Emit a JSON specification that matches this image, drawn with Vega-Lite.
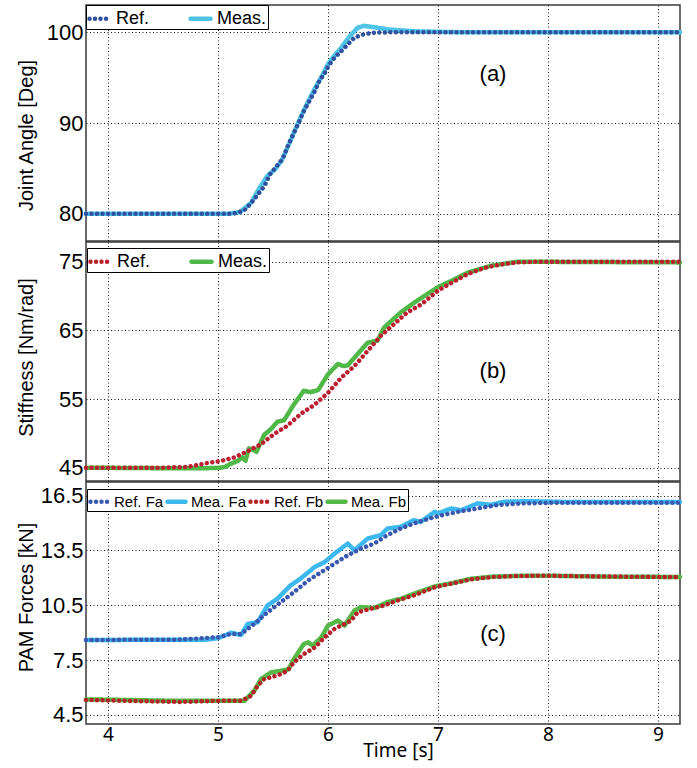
{
  "$schema": "https://vega.github.io/schema/vega-lite/v6.json",
  "padding": {"left": 15, "top": 3, "right": 5, "bottom": 2},
  "background": "white",
  "datasets": {
    "a": [
      {"s":"Ref.","t":3.8,"v":80},{"s":"Ref.","t":5.0,"v":80},{"s":"Ref.","t":5.1,"v":80.0},{"s":"Ref.","t":5.15,"v":80.05},{"s":"Ref.","t":5.2,"v":80.2},{"s":"Ref.","t":5.24,"v":80.4},{"s":"Ref.","t":5.3,"v":81.15},{"s":"Ref.","t":5.36,"v":82.1},{"s":"Ref.","t":5.42,"v":83.0},{"s":"Ref.","t":5.47,"v":84.3},{"s":"Ref.","t":5.53,"v":85.2},{"s":"Ref.","t":5.59,"v":86.1},{"s":"Ref.","t":5.64,"v":87.6},{"s":"Ref.","t":5.69,"v":88.9},{"s":"Ref.","t":5.74,"v":90.2},{"s":"Ref.","t":5.78,"v":91.3},{"s":"Ref.","t":5.83,"v":92.4},{"s":"Ref.","t":5.88,"v":93.5},{"s":"Ref.","t":5.92,"v":94.6},{"s":"Ref.","t":5.97,"v":95.5},{"s":"Ref.","t":6.01,"v":96.4},{"s":"Ref.","t":6.06,"v":97.2},{"s":"Ref.","t":6.12,"v":97.9},{"s":"Ref.","t":6.18,"v":98.65},{"s":"Ref.","t":6.24,"v":99.4},{"s":"Ref.","t":6.33,"v":99.8},{"s":"Ref.","t":6.42,"v":99.95},{"s":"Ref.","t":6.6,"v":100},{"s":"Ref.","t":9.2,"v":100},
      {"s":"Meas.","t":3.8,"v":80},{"s":"Meas.","t":5.1,"v":80},{"s":"Meas.","t":5.2,"v":80.2},{"s":"Meas.","t":5.3,"v":81.2},{"s":"Meas.","t":5.38,"v":82.9},{"s":"Meas.","t":5.45,"v":84.2},{"s":"Meas.","t":5.52,"v":84.9},{"s":"Meas.","t":5.58,"v":85.9},{"s":"Meas.","t":5.65,"v":87.8},{"s":"Meas.","t":5.72,"v":89.8},{"s":"Meas.","t":5.8,"v":91.9},{"s":"Meas.","t":5.88,"v":93.8},{"s":"Meas.","t":5.95,"v":95.3},{"s":"Meas.","t":6.0,"v":96.5},{"s":"Meas.","t":6.05,"v":97.3},{"s":"Meas.","t":6.12,"v":98.3},{"s":"Meas.","t":6.2,"v":99.6},{"s":"Meas.","t":6.27,"v":100.5},{"s":"Meas.","t":6.33,"v":100.7},{"s":"Meas.","t":6.42,"v":100.55},{"s":"Meas.","t":6.55,"v":100.3},{"s":"Meas.","t":6.8,"v":100.1},{"s":"Meas.","t":7.2,"v":100.0},{"s":"Meas.","t":9.2,"v":100.0}
    ],
    "b": [
      {"s":"Ref.","t":3.8,"v":45.0},{"s":"Ref.","t":4.5,"v":45.0},{"s":"Ref.","t":4.72,"v":45.1},{"s":"Ref.","t":4.91,"v":45.7},{"s":"Ref.","t":5.03,"v":46.0},{"s":"Ref.","t":5.15,"v":46.5},{"s":"Ref.","t":5.27,"v":47.4},{"s":"Ref.","t":5.39,"v":48.4},{"s":"Ref.","t":5.51,"v":49.9},{"s":"Ref.","t":5.63,"v":51.1},{"s":"Ref.","t":5.75,"v":52.8},{"s":"Ref.","t":5.88,"v":54.2},{"s":"Ref.","t":6.0,"v":55.9},{"s":"Ref.","t":6.12,"v":58.1},{"s":"Ref.","t":6.24,"v":59.8},{"s":"Ref.","t":6.36,"v":62.0},{"s":"Ref.","t":6.48,"v":64.2},{"s":"Ref.","t":6.6,"v":65.9},{"s":"Ref.","t":6.72,"v":67.6},{"s":"Ref.","t":6.85,"v":68.8},{"s":"Ref.","t":7.0,"v":70.8},{"s":"Ref.","t":7.12,"v":71.9},{"s":"Ref.","t":7.27,"v":73.2},{"s":"Ref.","t":7.42,"v":74.1},{"s":"Ref.","t":7.57,"v":74.6},{"s":"Ref.","t":7.72,"v":74.9},{"s":"Ref.","t":7.9,"v":75.0},{"s":"Ref.","t":9.2,"v":75.0},
      {"s":"Meas.","t":3.8,"v":45.0},{"s":"Meas.","t":4.7,"v":44.9},{"s":"Meas.","t":5.0,"v":44.95},{"s":"Meas.","t":5.06,"v":45.1},{"s":"Meas.","t":5.12,"v":45.6},{"s":"Meas.","t":5.18,"v":46.0},{"s":"Meas.","t":5.22,"v":46.5},{"s":"Meas.","t":5.25,"v":46.0},{"s":"Meas.","t":5.28,"v":47.8},{"s":"Meas.","t":5.32,"v":47.6},{"s":"Meas.","t":5.35,"v":47.3},{"s":"Meas.","t":5.42,"v":49.8},{"s":"Meas.","t":5.48,"v":50.6},{"s":"Meas.","t":5.54,"v":51.7},{"s":"Meas.","t":5.6,"v":51.9},{"s":"Meas.","t":5.69,"v":54.2},{"s":"Meas.","t":5.78,"v":56.2},{"s":"Meas.","t":5.84,"v":56.0},{"s":"Meas.","t":5.91,"v":56.3},{"s":"Meas.","t":6.0,"v":58.6},{"s":"Meas.","t":6.09,"v":60.1},{"s":"Meas.","t":6.14,"v":59.8},{"s":"Meas.","t":6.18,"v":59.9},{"s":"Meas.","t":6.24,"v":61.0},{"s":"Meas.","t":6.36,"v":63.2},{"s":"Meas.","t":6.45,"v":63.5},{"s":"Meas.","t":6.51,"v":65.4},{"s":"Meas.","t":6.66,"v":67.6},{"s":"Meas.","t":6.78,"v":69.0},{"s":"Meas.","t":7.0,"v":71.3},{"s":"Meas.","t":7.12,"v":72.2},{"s":"Meas.","t":7.27,"v":73.4},{"s":"Meas.","t":7.48,"v":74.4},{"s":"Meas.","t":7.72,"v":75.0},{"s":"Meas.","t":9.2,"v":74.9}
    ],
    "c": [
      {"s":"Ref. Fa","t":3.8,"v":8.6},{"s":"Ref. Fa","t":4.66,"v":8.62},{"s":"Ref. Fa","t":5.0,"v":8.75},{"s":"Ref. Fa","t":5.12,"v":8.93},{"s":"Ref. Fa","t":5.21,"v":8.93},{"s":"Ref. Fa","t":5.33,"v":9.48},{"s":"Ref. Fa","t":5.45,"v":10.12},{"s":"Ref. Fa","t":5.57,"v":10.67},{"s":"Ref. Fa","t":5.69,"v":11.22},{"s":"Ref. Fa","t":5.82,"v":11.86},{"s":"Ref. Fa","t":5.94,"v":12.32},{"s":"Ref. Fa","t":6.06,"v":12.78},{"s":"Ref. Fa","t":6.18,"v":13.24},{"s":"Ref. Fa","t":6.3,"v":13.6},{"s":"Ref. Fa","t":6.42,"v":13.88},{"s":"Ref. Fa","t":6.54,"v":14.34},{"s":"Ref. Fa","t":6.66,"v":14.7},{"s":"Ref. Fa","t":6.78,"v":14.98},{"s":"Ref. Fa","t":6.97,"v":15.34},{"s":"Ref. Fa","t":7.18,"v":15.62},{"s":"Ref. Fa","t":7.36,"v":15.8},{"s":"Ref. Fa","t":7.54,"v":15.99},{"s":"Ref. Fa","t":7.78,"v":16.08},{"s":"Ref. Fa","t":8.03,"v":16.11},{"s":"Ref. Fa","t":9.2,"v":16.12},
      {"s":"Mea. Fa","t":3.8,"v":8.6},{"s":"Mea. Fa","t":4.9,"v":8.62},{"s":"Mea. Fa","t":5.0,"v":8.7},{"s":"Mea. Fa","t":5.12,"v":9.0},{"s":"Mea. Fa","t":5.21,"v":8.87},{"s":"Mea. Fa","t":5.27,"v":9.48},{"s":"Mea. Fa","t":5.36,"v":9.57},{"s":"Mea. Fa","t":5.45,"v":10.49},{"s":"Mea. Fa","t":5.54,"v":10.86},{"s":"Mea. Fa","t":5.66,"v":11.59},{"s":"Mea. Fa","t":5.75,"v":11.96},{"s":"Mea. Fa","t":5.88,"v":12.6},{"s":"Mea. Fa","t":5.97,"v":12.87},{"s":"Mea. Fa","t":6.06,"v":13.33},{"s":"Mea. Fa","t":6.18,"v":13.88},{"s":"Mea. Fa","t":6.24,"v":13.51},{"s":"Mea. Fa","t":6.36,"v":14.15},{"s":"Mea. Fa","t":6.48,"v":14.34},{"s":"Mea. Fa","t":6.54,"v":14.7},{"s":"Mea. Fa","t":6.66,"v":14.79},{"s":"Mea. Fa","t":6.78,"v":15.16},{"s":"Mea. Fa","t":6.84,"v":15.06},{"s":"Mea. Fa","t":6.97,"v":15.62},{"s":"Mea. Fa","t":7.0,"v":15.53},{"s":"Mea. Fa","t":7.12,"v":15.8},{"s":"Mea. Fa","t":7.21,"v":15.7},{"s":"Mea. Fa","t":7.36,"v":16.08},{"s":"Mea. Fa","t":7.48,"v":16.0},{"s":"Mea. Fa","t":7.6,"v":16.17},{"s":"Mea. Fa","t":7.85,"v":16.2},{"s":"Mea. Fa","t":8.2,"v":16.15},{"s":"Mea. Fa","t":9.2,"v":16.15},
      {"s":"Ref. Fb","t":3.8,"v":5.32},{"s":"Ref. Fb","t":4.3,"v":5.25},{"s":"Ref. Fb","t":4.66,"v":5.21},{"s":"Ref. Fb","t":5.03,"v":5.27},{"s":"Ref. Fb","t":5.21,"v":5.27},{"s":"Ref. Fb","t":5.3,"v":5.54},{"s":"Ref. Fb","t":5.36,"v":6.09},{"s":"Ref. Fb","t":5.42,"v":6.46},{"s":"Ref. Fb","t":5.48,"v":6.55},{"s":"Ref. Fb","t":5.57,"v":6.73},{"s":"Ref. Fb","t":5.63,"v":6.91},{"s":"Ref. Fb","t":5.69,"v":7.37},{"s":"Ref. Fb","t":5.78,"v":7.83},{"s":"Ref. Fb","t":5.88,"v":8.19},{"s":"Ref. Fb","t":5.97,"v":8.75},{"s":"Ref. Fb","t":6.06,"v":9.21},{"s":"Ref. Fb","t":6.15,"v":9.48},{"s":"Ref. Fb","t":6.21,"v":9.66},{"s":"Ref. Fb","t":6.27,"v":10.12},{"s":"Ref. Fb","t":6.39,"v":10.31},{"s":"Ref. Fb","t":6.51,"v":10.49},{"s":"Ref. Fb","t":6.63,"v":10.76},{"s":"Ref. Fb","t":6.78,"v":11.04},{"s":"Ref. Fb","t":6.97,"v":11.49},{"s":"Ref. Fb","t":7.12,"v":11.68},{"s":"Ref. Fb","t":7.3,"v":11.92},{"s":"Ref. Fb","t":7.48,"v":12.04},{"s":"Ref. Fb","t":7.72,"v":12.1},{"s":"Ref. Fb","t":7.97,"v":12.12},{"s":"Ref. Fb","t":8.3,"v":12.09},{"s":"Ref. Fb","t":9.2,"v":12.04},
      {"s":"Mea. Fb","t":3.8,"v":5.35},{"s":"Mea. Fb","t":4.5,"v":5.28},{"s":"Mea. Fb","t":5.24,"v":5.27},{"s":"Mea. Fb","t":5.33,"v":5.82},{"s":"Mea. Fb","t":5.39,"v":6.46},{"s":"Mea. Fb","t":5.48,"v":6.82},{"s":"Mea. Fb","t":5.57,"v":6.91},{"s":"Mea. Fb","t":5.64,"v":6.99},{"s":"Mea. Fb","t":5.69,"v":7.56},{"s":"Mea. Fb","t":5.78,"v":8.38},{"s":"Mea. Fb","t":5.82,"v":8.47},{"s":"Mea. Fb","t":5.86,"v":8.29},{"s":"Mea. Fb","t":5.94,"v":8.75},{"s":"Mea. Fb","t":6.0,"v":9.39},{"s":"Mea. Fb","t":6.09,"v":9.66},{"s":"Mea. Fb","t":6.15,"v":9.39},{"s":"Mea. Fb","t":6.24,"v":10.21},{"s":"Mea. Fb","t":6.3,"v":10.4},{"s":"Mea. Fb","t":6.42,"v":10.35},{"s":"Mea. Fb","t":6.54,"v":10.67},{"s":"Mea. Fb","t":6.66,"v":10.85},{"s":"Mea. Fb","t":6.78,"v":11.13},{"s":"Mea. Fb","t":6.97,"v":11.53},{"s":"Mea. Fb","t":7.12,"v":11.7},{"s":"Mea. Fb","t":7.3,"v":11.95},{"s":"Mea. Fb","t":7.5,"v":12.07},{"s":"Mea. Fb","t":7.8,"v":12.12},{"s":"Mea. Fb","t":8.0,"v":12.12},{"s":"Mea. Fb","t":8.5,"v":12.07},{"s":"Mea. Fb","t":9.2,"v":12.05}
    ],
    "lab": [
      {"p":"a","t":7.5,"v":95.4,"txt":"(a)"},
      {"p":"b","t":7.5,"v":59.1,"txt":"(b)"},
      {"p":"c","t":7.5,"v":8.95,"txt":"(c)"}
    ]
  },
  "config": {
    "view": {"stroke": "#3a3a3a", "strokeWidth": 1.5},
    "axis": {
      "grid": true, "gridDash": [1, 2.5], "gridColor": "#000", "gridWidth": 1, "gridOpacity": 0.9,
      "domain": false, "ticks": false,
      "labelFont": "Liberation Sans", "labelFontSize": 22, "labelColor": "black",
      "titleFont": "Liberation Sans", "titleFontSize": 20, "titleFontWeight": "normal", "titleColor": "black"
    },
    "legend": {
      "title": null, "orient": "none", "direction": "horizontal",
      "padding": 1, "strokeColor": "black", "fillColor": "white", "cornerRadius": 0,
      "labelFont": "Liberation Sans", "labelFontSize": 18, "labelColor": "black",
      "symbolType": "stroke", "symbolSize": 400, "symbolStrokeWidth": 4.5,
      "columnPadding": 38, "labelOffset": 4
    },
    "line": {"strokeCap": "round", "strokeJoin": "round", "strokeWidth": 4.5}
  },
  "spacing": -1,
  "resolve": {"scale": {"color": "independent", "strokeDash": "independent"}, "legend": {"color": "independent", "strokeDash": "independent"}},
  "vconcat": [
    {
      "width": 594, "height": 236,
      "layer": [
        {
          "data": {"name": "a"},
          "transform": [{"filter": "datum.s === 'Meas.'"}],
          "mark": {"type": "line"},
          "encoding": {
            "x": {"field": "t", "type": "quantitative", "scale": {"domain": [3.8, 9.2], "nice": false}, "axis": {"values": [4,5,6,7,8,9], "labels": false, "title": null}},
            "y": {"field": "v", "type": "quantitative", "scale": {"domain": [77, 103], "nice": false, "zero": false}, "axis": {"values": [80, 90, 100], "title": "Joint Angle [Deg]", "titleX": -60, "titleY": 130, "titleAngle": 270, "titleBaseline": "middle", "titleAlign": "center", "labelPadding": 3}},
            "color": {"field": "s", "type": "nominal", "scale": {"domain": ["Ref.", "Meas."], "range": ["#3050a0", "#4fc3e6"]}, "legend": {"legendX": 0, "legendY": 0, "encoding": {"symbols": {"strokeCap": {"value": "round"}}}}},
            "strokeDash": {"field": "s", "type": "nominal", "scale": {"domain": ["Ref.", "Meas."], "range": [[0.01, 5.5], [1, 0]]}, "legend": {"legendX": 0, "legendY": 0, "encoding": {"symbols": {"strokeCap": {"value": "round"}}}}}
          }
        },
        {
          "data": {"name": "a"},
          "transform": [{"filter": "datum.s === 'Ref.'"}],
          "mark": {"type": "line"},
          "encoding": {
            "x": {"field": "t", "type": "quantitative"},
            "y": {"field": "v", "type": "quantitative"},
            "color": {"field": "s", "type": "nominal"},
            "strokeDash": {"field": "s", "type": "nominal"}
          }
        },
        {
          "data": {"name": "lab"},
          "transform": [{"filter": "datum.p === 'a'"}],
          "mark": {"type": "text", "font": "Liberation Sans", "fontSize": 22, "color": "black"},
          "encoding": {
            "x": {"field": "t", "type": "quantitative"},
            "y": {"field": "v", "type": "quantitative"},
            "text": {"field": "txt"}
          }
        }
      ]
    },
    {
      "width": 594, "height": 239,
      "layer": [
        {
          "data": {"name": "b"},
          "transform": [{"filter": "datum.s === 'Meas.'"}],
          "mark": {"type": "line"},
          "encoding": {
            "x": {"field": "t", "type": "quantitative", "scale": {"domain": [3.8, 9.2], "nice": false}, "axis": {"values": [4,5,6,7,8,9], "labels": false, "title": null}},
            "y": {"field": "v", "type": "quantitative", "scale": {"domain": [43.06, 77.87], "nice": false, "zero": false}, "axis": {"values": [45, 55, 65, 75], "title": "Stiffness [Nm/rad]", "titleX": -60, "titleY": 115, "titleAngle": 270, "titleBaseline": "middle", "titleAlign": "center", "labelPadding": 3}},
            "color": {"field": "s", "type": "nominal", "scale": {"domain": ["Ref.", "Meas."], "range": ["#bb2030", "#50b848"]}, "legend": {"legendX": 1, "legendY": 6, "encoding": {"symbols": {"strokeCap": {"value": "round"}}}}},
            "strokeDash": {"field": "s", "type": "nominal", "scale": {"domain": ["Ref.", "Meas."], "range": [[0.01, 5.5], [1, 0]]}, "legend": {"legendX": 1, "legendY": 6, "encoding": {"symbols": {"strokeCap": {"value": "round"}}}}}
          }
        },
        {
          "data": {"name": "b"},
          "transform": [{"filter": "datum.s === 'Ref.'"}],
          "mark": {"type": "line"},
          "encoding": {
            "x": {"field": "t", "type": "quantitative"},
            "y": {"field": "v", "type": "quantitative"},
            "color": {"field": "s", "type": "nominal"},
            "strokeDash": {"field": "s", "type": "nominal"}
          }
        },
        {
          "data": {"name": "lab"},
          "transform": [{"filter": "datum.p === 'b'"}],
          "mark": {"type": "text", "font": "Liberation Sans", "fontSize": 22, "color": "black"},
          "encoding": {
            "x": {"field": "t", "type": "quantitative"},
            "y": {"field": "v", "type": "quantitative"},
            "text": {"field": "txt"}
          }
        }
      ]
    },
    {
      "width": 594, "height": 242,
      "layer": [
        {
          "data": {"name": "c"},
          "transform": [{"filter": "datum.s === 'Mea. Fa' || datum.s === 'Mea. Fb'"}],
          "mark": {"type": "line"},
          "encoding": {
            "x": {"field": "t", "type": "quantitative", "scale": {"domain": [3.8, 9.2], "nice": false}, "axis": {"values": [4,5,6,7,8,9], "format": "d", "labelFont": "Noto Sans", "labelFontSize": 19, "labelPadding": 1, "title": "Time [s]", "titleFont": "Noto Sans", "titleFontSize": 19, "titleX": 312, "titleY": 26, "titleBaseline": "middle", "titleAlign": "center"}},
            "y": {"field": "v", "type": "quantitative", "scale": {"domain": [4.0, 17.25], "nice": false, "zero": false}, "axis": {"values": [4.5, 7.5, 10.5, 13.5, 16.5], "format": ".1f", "title": "PAM Forces [kN]", "titleX": -60, "titleY": 115, "titleAngle": 270, "titleBaseline": "middle", "titleAlign": "center", "labelPadding": 3}},
            "color": {"field": "s", "type": "nominal", "scale": {"domain": ["Ref. Fa", "Mea. Fa", "Ref. Fb", "Mea. Fb"], "range": ["#3a58b0", "#3cb8ee", "#b52228", "#55b848"]}, "legend": {"legendX": 1, "legendY": 7, "labelFontSize": 15, "symbolSize": 324, "columnPadding": 1, "labelOffset": 3, "encoding": {"symbols": {"strokeCap": {"value": "round"}}}}},
            "strokeDash": {"field": "s", "type": "nominal", "scale": {"domain": ["Ref. Fa", "Mea. Fa", "Ref. Fb", "Mea. Fb"], "range": [[0.01, 5.5], [1, 0], [0.01, 5.5], [1, 0]]}, "legend": {"legendX": 1, "legendY": 7, "labelFontSize": 15, "symbolSize": 324, "columnPadding": 1, "labelOffset": 3, "encoding": {"symbols": {"strokeCap": {"value": "round"}}}}}
          }
        },
        {
          "data": {"name": "c"},
          "transform": [{"filter": "datum.s === 'Ref. Fa' || datum.s === 'Ref. Fb'"}],
          "mark": {"type": "line"},
          "encoding": {
            "x": {"field": "t", "type": "quantitative"},
            "y": {"field": "v", "type": "quantitative"},
            "color": {"field": "s", "type": "nominal"},
            "strokeDash": {"field": "s", "type": "nominal"}
          }
        },
        {
          "data": {"name": "lab"},
          "transform": [{"filter": "datum.p === 'c'"}],
          "mark": {"type": "text", "font": "Liberation Sans", "fontSize": 22, "color": "black"},
          "encoding": {
            "x": {"field": "t", "type": "quantitative"},
            "y": {"field": "v", "type": "quantitative"},
            "text": {"field": "txt"}
          }
        }
      ]
    }
  ]
}
